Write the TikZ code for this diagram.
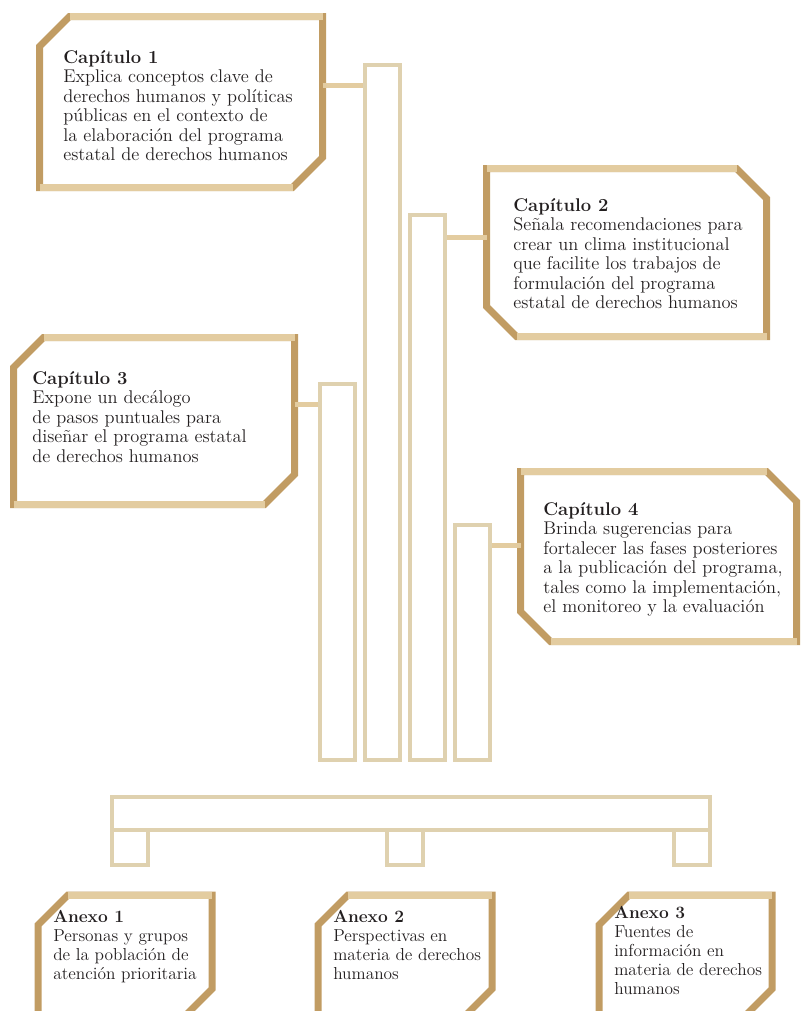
\documentclass[tikz,border=0pt]{standalone}
\usetikzlibrary{fit}
\definecolor{gold}{HTML}{C19C63}
\definecolor{sand}{HTML}{E3CCA0}
\definecolor{pale}{HTML}{DFD1AF}
\definecolor{ink}{HTML}{231F20}
\tikzset{frame/.style={draw=gold,line width=5.25pt,line join=miter},
  rim/.style={draw=sand,line width=5.25pt},
  bar/.style={draw=pale,line width=3.2pt,inner sep=0pt},
  link/.style={draw=sand,line width=3.75pt},
  txt/.style={anchor=north west,align=left,inner sep=0pt,text=ink,
    font=\fontsize{13.8}{14.6}\selectfont},
  annex/.style={txt,font=\fontsize{13}{14.3}\selectfont}}
\begin{document}
\begin{tikzpicture}[x=.75pt,y=-.75pt]
\useasboundingbox (0,0) rectangle (802,1011);
\clip (0,0) rectangle (802,1011);
% frames, cut top left and bottom right
\foreach \l/\t/\r/\b in {39.5/16.5/322.5/187.5,13.5/337.5/294.5/504.5,
  38/895/212/1019,318/895/492/1019,599/895/772/1019}{
 \draw[frame] (\l+30,\t)--(\r,\t)--(\r,\b-30)--(\r-30,\b)--(\l,\b)--(\l,\t+30)--cycle;
 \draw[rim] (\l+30,\t)--(\r,\t) (\l,\b)--(\r-30,\b);
}
% frames, cut top right and bottom left
\foreach \l/\t/\r/\b in {486.5/168.5/766.5/336.5,520.5/471.5/796.5/641.5}{
 \draw[frame] (\l,\t)--(\r-30,\t)--(\r,\t+30)--(\r,\b)--(\l+30,\b)--(\l,\b-30)--cycle;
 \draw[rim] (\l,\t)--(\r-30,\t) (\l+30,\b)--(\r,\b);
}
% bars and base
\foreach \n/\x/\y in {b3/320/384,b1/365/65,b2/410/215,b4/455/525}
 \node[bar,fit={(\x,\y)(\x+35,760)}] (\n) {};
\node[bar,fit={(112,797)(710,830)}] (base) {};
\foreach \n/\x in {f1/112,f2/387,f3/674}
 \node[bar,fit={(\x,830)(\x+36,865)}] (\n) {};
% links
\coordinate (k1) at (322.5,85);
\coordinate (k2) at (486.5,237);
\coordinate (k3) at (294.5,404);
\coordinate (k4) at (520.5,545);
\draw[link] (k1) -- (k1 -| b1.west);
\draw[link] (k2) -- (k2 -| b2.east);
\draw[link] (k3) -- (k3 -| b3.west);
\draw[link] (k4) -- (k4 -| b4.east);
% texts
\node[txt] (c1) at (63,50) {\textbf{Capítulo 1}\\Explica conceptos clave de\\derechos humanos y políticas\\públicas en el contexto de\\la elaboración del programa\\estatal de derechos humanos};
\node[txt] (c2) at (513,198) {\textbf{Capítulo 2}\\Señala recomendaciones para\\crear un clima institucional\\que facilite los trabajos de\\formulación del programa\\estatal de derechos humanos};
\node[txt] (c3) at (32,371) {\textbf{Capítulo 3}\\Expone un decálogo\\de pasos puntuales para\\diseñar el programa estatal\\de derechos humanos};
\node[txt] (c4) at (543,502) {\textbf{Capítulo 4}\\Brinda sugerencias para\\fortalecer las fases posteriores\\a la publicación del programa,\\tales como la implementación,\\el monitoreo y la evaluación};
\node[annex] (a1) at (53,910) {\textbf{Anexo 1}\\Personas y grupos\\de la población de\\atención prioritaria};
\node[annex] (a2) at (333,910) {\textbf{Anexo 2}\\Perspectivas en\\materia de derechos\\humanos};
\node[annex] (a3) at (614,906) {\textbf{Anexo 3}\\Fuentes de\\información en\\materia de derechos\\humanos};
\end{tikzpicture}
\end{document}
